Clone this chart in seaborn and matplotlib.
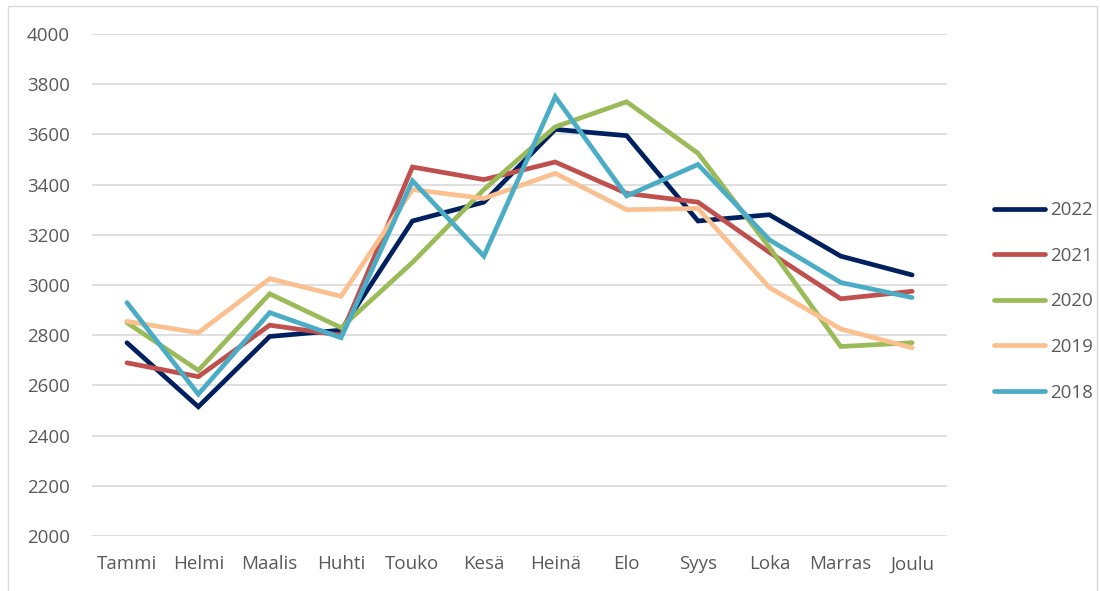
import pandas as pd
import matplotlib.pyplot as plt
import matplotlib.patches as patches
import seaborn as sns

months = ["Tammi", "Helmi", "Maalis", "Huhti", "Touko", "Kesä",
          "Heinä", "Elo", "Syys", "Loka", "Marras", "Joulu"]
years = ["2022", "2021", "2020", "2019", "2018"]

v2022 = [2770, 2515, 2795, 2820, 3255, 3330, 3620, 3595, 3255, 3280, 3115, 3040]
v2021 = [2690, 2635, 2840, 2800, 3470, 3420, 3490, 3365, 3330, 3130, 2945, 2975]
v2020 = [2850, 2660, 2965, 2830, 3090, 3380, 3630, 3730, 3525, 3150, 2755, 2770]
v2019 = [2855, 2810, 3025, 2955, 3380, 3345, 3445, 3300, 3305, 2990, 2825, 2750]
v2018 = [2930, 2565, 2890, 2790, 3415, 3115, 3750, 3355, 3480, 3180, 3010, 2950]

colors = ["#002060", "#C0504D", "#9BBB59", "#FAC090", "#4BACC6"]

sns.set_theme(style="white")
plt.rcParams['font.family'] = ['Open Sans', 'DejaVu Sans']

rows = []
for year, vals in zip(years, [v2022, v2021, v2020, v2019, v2018]):
    for i, (m, v) in enumerate(zip(months, vals)):
        rows.append({"pos": i, "kuukausi": m, "vuosi": year, "arvo": v})
df = pd.DataFrame(rows)

fig = plt.figure(figsize=(11, 5.91), dpi=100)
ax = fig.add_axes([0.0836, 0.093, 0.7774, 0.8495])

sns.lineplot(data=df, x="pos", y="arvo", hue="vuosi", hue_order=years,
             palette=colors, linewidth=3.4, ax=ax, sort=False,
             solid_capstyle="round", solid_joinstyle="miter")

ax.set_xlim(-0.49, 11.49)
ax.set_ylim(2000, 4000)
ax.set_yticks(range(2000, 4001, 200))
ax.set_xticks(range(len(months)))
ax.set_xticklabels(months)
ax.set_xlabel("")
ax.set_ylabel("")
ax.tick_params(axis="both", colors="#595959", labelsize=13.5, length=0)
ax.tick_params(axis="y", pad=16)
ax.tick_params(axis="x", pad=14)
ax.grid(axis="y", color="#D9D9D9", linewidth=1.2)
ax.set_axisbelow(True)
for s in ax.spines.values():
    s.set_visible(False)

leg = ax.legend(loc="center left", bbox_to_anchor=(0.895, 0.49),
                bbox_transform=fig.transFigure, frameon=False,
                fontsize=13.5, handlelength=2.7, handletextpad=0.3,
                labelspacing=1.47, borderpad=0)
for t in leg.get_texts():
    t.set_color("#595959")
for line in leg.get_lines():
    line.set_linewidth(3.4)

fig.patches.append(patches.Rectangle((0.007, -0.05), 0.99, 1.04,
                                     transform=fig.transFigure, fill=False,
                                     edgecolor="#D9D9D9", linewidth=1))

fig.savefig("out.png", dpi=100)
